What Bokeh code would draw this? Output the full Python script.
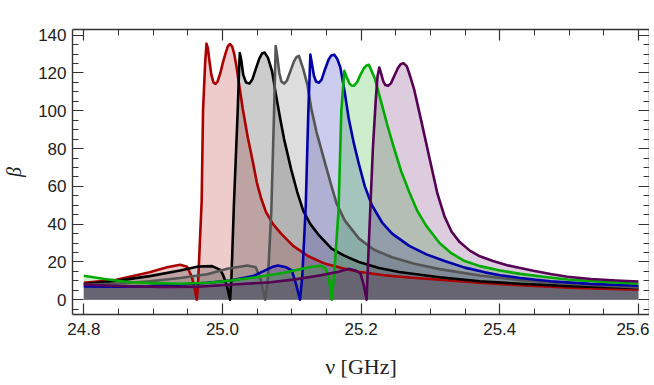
from bokeh.plotting import figure
from bokeh.models import LinearAxis, SingleIntervalTicker, Range1d, CustomJSTickFormatter
from bokeh.embed import file_html
from bokeh.resources import INLINE

# ---- data ----
red_x = [24.800, 24.847, 24.895, 24.920, 24.939, 24.949, 24.956, 24.960, 24.963, 24.965, 24.970, 24.972, 24.975,
         24.977, 24.979, 24.981, 24.984, 24.987, 24.990, 24.993, 24.997, 25.001, 25.005, 25.008, 25.011, 25.014,
         25.017, 25.020, 25.024, 25.0293, 25.0365, 25.0438, 25.0496, 25.0555, 25.0627, 25.0729, 25.0846,
         25.1020, 25.1239, 25.1486, 25.1748, 25.1967, 25.2330, 25.2694, 25.3131, 25.3713, 25.4295, 25.5023,
         25.600]
red_y = [9.0, 10.6, 14.6, 17.2, 18.5, 17.5, 12.0, 6.0, 0.0, 10.0, 52.0, 100.0, 125.0,
         135.5, 133.0, 127.0, 119.0, 115.0, 114.2, 115.5, 120.0, 126.0, 131.0, 134.3, 135.3, 134.0,
         130.0, 124.0, 114.0, 101.0, 86.0, 73.0, 62.0, 54.0, 46.5, 40.0, 35.0,
         28.5, 23.0, 19.0, 16.5, 14.8, 13.0, 11.8, 10.6, 9.0, 7.7, 6.4,
         5.3]

black_x = [24.800, 24.847, 24.895, 24.939, 24.965, 24.985, 24.997, 25.001, 25.006, 25.011, 25.013, 25.0165,
           25.022, 25.024, 25.025, 25.027, 25.030, 25.034, 25.039, 25.043, 25.048, 25.053, 25.057, 25.061,
           25.0657, 25.0715, 25.0774, 25.0832, 25.0889, 25.0991, 25.1079, 25.1166, 25.1268, 25.1384,
           25.1574, 25.1748, 25.1967, 25.2258, 25.2549, 25.3131, 25.3713, 25.4295, 25.5023, 25.600]
black_y = [8.3, 10.0, 12.5, 15.5, 17.6, 17.8, 15.8, 13.0, 8.0, 0.0, 12.0, 50.0,
           100.0, 122.0, 130.5, 127.0, 119.0, 115.0, 114.4, 116.5, 122.0, 127.5, 130.3, 130.8,
           128.0, 121.0, 108.0, 96.0, 85.0, 69.0, 57.0, 47.0, 40.0, 34.5,
           27.0, 23.5, 20.0, 16.8, 14.7, 11.9, 9.8, 8.5, 7.2, 6.2]

gray_x = [24.800, 24.847, 24.895, 24.939, 24.978, 25.007, 25.036, 25.048, 25.055, 25.0617, 25.0657, 25.0705,
          25.0745, 25.0768, 25.079, 25.082, 25.085, 25.0889, 25.093, 25.098, 25.103, 25.107, 25.1103, 25.1166,
          25.1224, 25.1282, 25.1355, 25.1482, 25.1574, 25.1646, 25.1763, 25.1967, 25.2185, 25.2447,
          25.2767, 25.3131, 25.3713, 25.4295, 25.5023, 25.600]
gray_y = [8.0, 8.5, 9.8, 11.5, 13.5, 16.4, 18.1, 17.2, 11.0, 0.0, 12.0, 47.0,
          100.0, 134.3, 129.0, 120.0, 115.5, 114.4, 116.0, 121.0, 126.0, 128.5, 129.0, 122.0,
          114.0, 101.0, 89.0, 72.0, 60.0, 51.0, 42.0, 32.5, 26.5, 22.5,
          19.0, 16.2, 12.8, 10.4, 8.3, 6.5]

blue_x = [24.800, 24.847, 24.895, 24.939, 24.978, 25.012, 25.044, 25.073, 25.080, 25.092, 25.100, 25.106,
          25.1118, 25.1151, 25.1202, 25.1239, 25.1268, 25.129, 25.132, 25.135, 25.1392, 25.143, 25.148,
          25.153, 25.157, 25.1613, 25.1655, 25.1700, 25.1763, 25.1821, 25.1894, 25.1967, 25.2054, 25.2156,
          25.2301, 25.2447, 25.2694, 25.2942, 25.3204, 25.3495, 25.3786, 25.4004, 25.4295, 25.4732, 25.5314,
          25.600]
blue_y = [7.0, 6.9, 7.2, 8.0, 9.0, 10.2, 12.5, 17.5, 18.1, 17.2, 15.5, 8.5,
          0.0, 12.0, 50.0, 100.0, 129.7, 125.0, 118.5, 115.5, 114.8, 116.5, 122.0,
          127.0, 129.3, 129.7, 127.5, 123.0, 110.0, 96.0, 83.0, 72.0, 60.0, 50.0,
          41.0, 35.0, 28.5, 24.0, 20.5, 17.0, 14.5, 13.0, 11.5, 9.8, 8.4,
          7.4]

green_x = [24.800, 24.830, 24.867, 24.900, 24.939, 24.980, 25.012, 25.050, 25.085, 25.110, 25.129, 25.141,
           25.148, 25.153, 25.1578, 25.1624, 25.1674, 25.1715, 25.1758, 25.179, 25.183, 25.186, 25.1894,
           25.194, 25.199, 25.204, 25.208, 25.2112, 25.2199, 25.2287, 25.2374, 25.2461, 25.2578, 25.2694,
           25.2811, 25.2942, 25.3131, 25.3306, 25.3495, 25.3713, 25.4004, 25.4295, 25.4659, 25.4979, 25.5460,
           25.600]
green_y = [12.7, 11.0, 9.3, 8.8, 8.5, 9.0, 10.2, 12.0, 14.0, 16.0, 17.5, 18.0,
           17.0, 13.0, 0.0, 20.0, 47.0, 100.0, 121.1, 118.0, 114.5, 113.4, 113.2,
           115.0, 119.0, 122.5, 124.0, 124.3, 117.0, 105.0, 93.0, 82.0, 68.0, 57.0,
           47.0, 39.0, 30.0, 24.5, 20.5, 17.8, 15.5, 13.7, 12.0, 10.7, 9.5,
           8.5]

purple_x = [24.800, 24.847, 24.914, 24.964, 25.022, 25.070, 25.1045, 25.140, 25.1675, 25.182, 25.1918,
            25.1991, 25.204, 25.2079, 25.2106, 25.2137, 25.217, 25.221, 25.2236, 25.2262, 25.229, 25.232,
            25.235, 25.2389, 25.243, 25.248, 25.253, 25.257, 25.2611, 25.266, 25.271, 25.2767, 25.2884,
            25.2986, 25.3102, 25.3204, 25.3306, 25.3422, 25.3568, 25.3713, 25.3902, 25.4106, 25.4295,
            25.4484, 25.4732, 25.4979, 25.5314, 25.5678, 25.600]
purple_y = [8.0, 7.3, 6.8, 6.9, 8.2, 9.3, 10.8, 12.8, 14.8, 16.4, 15.5,
            14.0, 7.5, 0.0, 25.0, 52.0, 80.0, 105.0, 118.0, 122.9, 119.5, 115.5,
            113.6, 113.2, 114.5, 118.5, 122.5, 124.6, 125.2, 123.5, 118.0, 111.0, 92.0,
            75.0, 56.0, 44.0, 36.0, 30.5, 26.0, 23.0, 20.5, 18.3, 16.8,
            15.3, 13.6, 12.2, 11.0, 10.2, 9.7]

x_ticks = [24.8, 25.0, 25.2, 25.4, 25.6]
y_ticks = [0, 20, 40, 60, 80, 100, 120, 140]

series = [
    (red_x, red_y, "#aa0000"),
    (black_x, black_y, "#000000"),
    (gray_x, gray_y, "#555555"),
    (blue_x, blue_y, "#0000aa"),
    (green_x, green_y, "#00aa00"),
    (purple_x, purple_y, "#550055"),
]

p = figure(frame_width=577, frame_height=285, output_backend="svg", toolbar_location=None,
           x_range=Range1d(24.7837, 25.616), y_range=Range1d(-7.8, 143.0),
           min_border_left=68, min_border_right=0, min_border_top=29, min_border_bottom=0)
p.outline_line_color = None
p.xgrid.visible = False
p.ygrid.visible = False
p.background_fill_color = "white"

for xs, ys, c in series:
    p.varea(x=xs, y1=[0] * len(xs), y2=ys, fill_color=c, fill_alpha=0.2)
for xs, ys, c in series:
    p.line(xs, ys, line_color=c, line_width=2.6, line_join="round")

frame_col = "#333333"


def style(ax, labels):
    ax.axis_line_color = frame_col
    ax.axis_line_width = 1.4
    ax.major_tick_line_color = frame_col
    ax.minor_tick_line_color = frame_col
    ax.major_tick_line_width = 1.2
    ax.minor_tick_line_width = 1.0
    ax.major_tick_in = 11
    ax.major_tick_out = 0
    ax.minor_tick_in = 6
    ax.minor_tick_out = 0
    if labels:
        ax.major_label_text_font = "Liberation Sans"
        ax.major_label_text_font_size = "17px"
        ax.major_label_text_color = "#222222"
    else:
        ax.formatter = CustomJSTickFormatter(code="return ''")
        ax.major_label_standoff = 0


xb = p.xaxis[0]
xb.ticker = SingleIntervalTicker(interval=0.2, num_minor_ticks=4)
xb.major_label_overrides = {v: f"{v:.1f}" for v in x_ticks}
style(xb, True)
xb.major_label_standoff = 8
xb.axis_label = "\u03bd [GHz]"
xb.axis_label_text_font = "Liberation Serif"
xb.axis_label_text_font_style = "normal"
xb.axis_label_text_font_size = "22px"
xb.axis_label_text_color = "#222222"
xb.axis_label_standoff = 16

yl = p.yaxis[0]
yl.ticker = SingleIntervalTicker(interval=20, num_minor_ticks=4)
style(yl, True)
yl.major_label_standoff = 6
yl.axis_label = "\u03b2"
yl.axis_label_text_font = "Liberation Serif"
yl.axis_label_text_font_style = "italic"
yl.axis_label_text_font_size = "20px"
yl.axis_label_text_color = "#222222"
yl.axis_label_standoff = 10

xt = LinearAxis(ticker=SingleIntervalTicker(interval=0.2, num_minor_ticks=4))
style(xt, False)
p.add_layout(xt, "above")
yr = LinearAxis(ticker=SingleIntervalTicker(interval=20, num_minor_ticks=4))
style(yr, False)
p.add_layout(yr, "right")

open("out.html", "w").write(file_html(p, INLINE))
